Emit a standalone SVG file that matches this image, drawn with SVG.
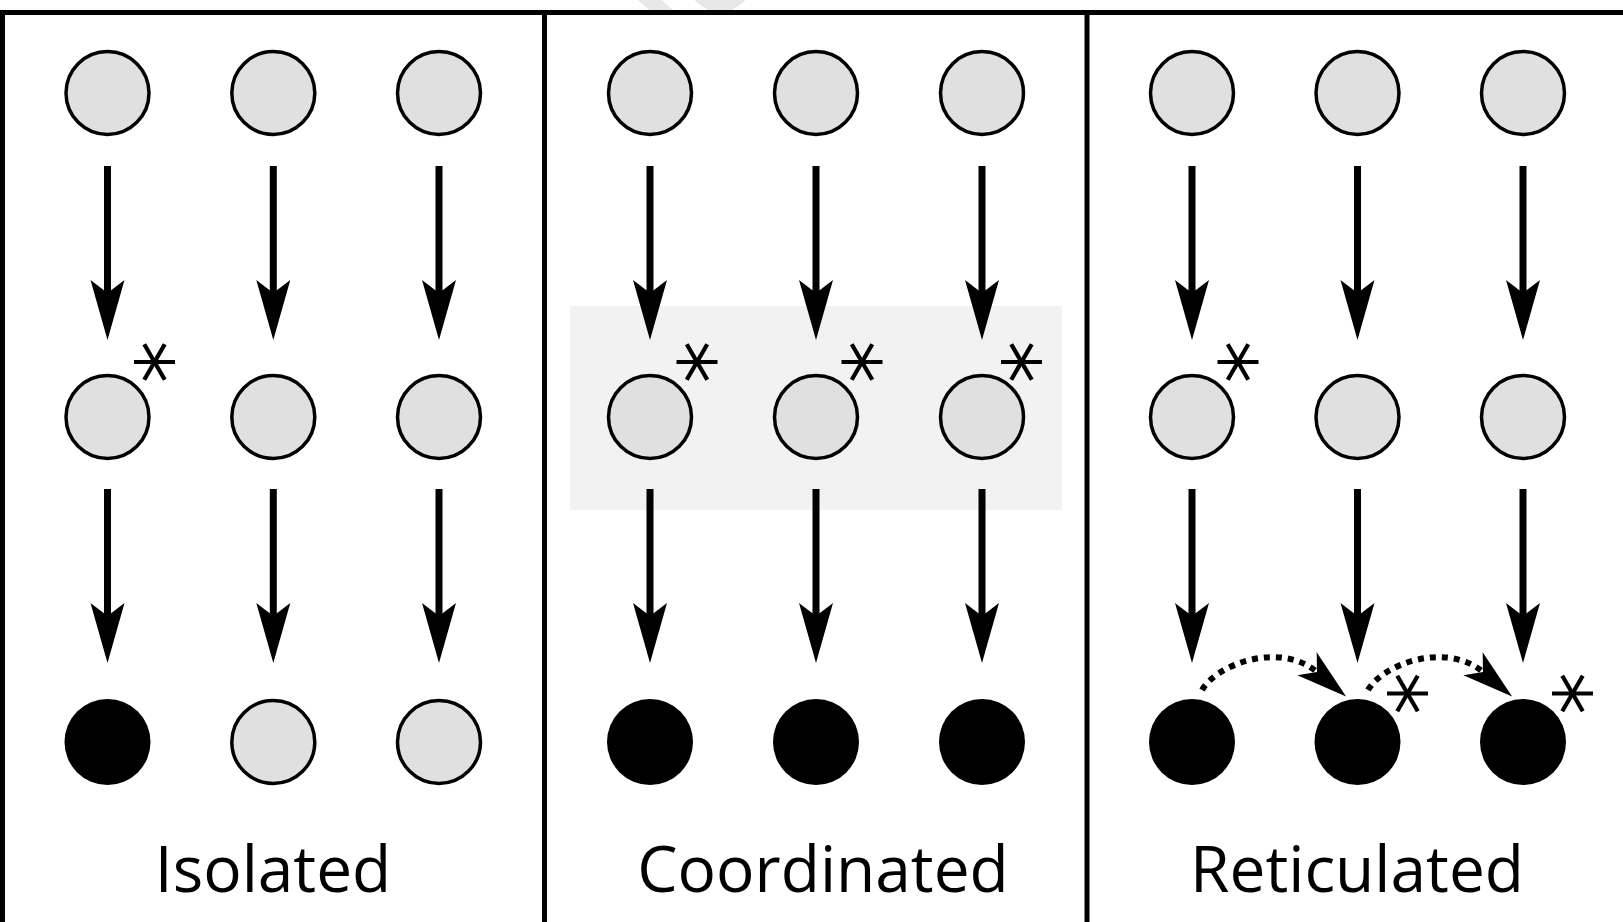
<svg xmlns="http://www.w3.org/2000/svg" xmlns:xlink="http://www.w3.org/1999/xlink" width="1623" height="922" viewBox="0 0 1623 922">
  <style>
    .node { fill: #e0e0e0; stroke: #000; stroke-width: 3.5; }
    .done { fill: #000; stroke: none; }
    .flow { fill: none; stroke: #000; stroke-width: 7; }
    .link { fill: none; stroke: #000; stroke-width: 6; stroke-dasharray: 6 6; }
    .frame { fill: none; stroke: #000; stroke-width: 5; }
    .mark { stroke: #000; stroke-width: 4.2; fill: none; }
    .label { font-family: "Open Sans", "Noto Sans", sans-serif; font-size: 64px; fill: #000; text-anchor: middle; }
  </style>
  <defs>
    <!-- stealth arrowhead, anchored at its notch -->
    <marker id="head" markerUnits="userSpaceOnUse" viewBox="0 -17 60 34" refX="13" refY="0" markerWidth="60" markerHeight="34" orient="auto" overflow="visible">
      <path d="M60,0 L0,-17 L13,0 L0,17 Z" fill="#000"/>
    </marker>
    <marker id="headSmall" markerUnits="userSpaceOnUse" viewBox="0 -15 51 30" refX="13" refY="0" markerWidth="51" markerHeight="30" orient="auto" overflow="visible">
      <path d="M51,0 L0,-15 L13,0 L0,15 Z" fill="#000"/>
    </marker>
    <!-- six-spoke change mark -->
    <g id="star" class="mark">
      <line x1="-20.5" y1="0" x2="20.5" y2="0"/>
      <line x1="-10.25" y1="-17.75" x2="10.25" y2="17.75"/>
      <line x1="10.25" y1="-17.75" x2="-10.25" y2="17.75"/>
    </g>
    <clipPath id="topStrip"><rect x="0" y="0" width="1623" height="12"/></clipPath>
  </defs>

  <rect width="1623" height="922" fill="#fff"/>

  <!-- faint stamp above the frame -->
  <g clip-path="url(#topStrip)" fill="#e8e8e8">
    <polygon points="633,-4 657,-4 675,12 652,12"/>
    <ellipse cx="720" cy="-24" rx="34" ry="36"/>
  </g>

  <!-- shaded band behind the coordinated middle row -->
  <rect id="sync-band" x="570" y="306" width="492" height="204" fill="#f2f2f2"/>

  <!-- panel frame -->
  <g id="frame">
    <line class="frame" x1="0" y1="12.5" x2="1623" y2="12.5"/>
    <line class="frame" x1="2.5" y1="10" x2="2.5" y2="922"/>
    <line class="frame" x1="544.5" y1="10" x2="544.5" y2="922"/>
    <line class="frame" x1="1087" y1="10" x2="1087" y2="922"/>
  </g>

  <!-- connectors -->
  <g id="connectors">
    <!-- isolated -->
    <path class="flow" d="M107.5,166 V293" marker-end="url(#head)"/>
    <path class="flow" d="M273.3,166 V293" marker-end="url(#head)"/>
    <path class="flow" d="M439,166 V293" marker-end="url(#head)"/>
    <path class="flow" d="M107.5,489 V616" marker-end="url(#head)"/>
    <path class="flow" d="M273.3,489 V616" marker-end="url(#head)"/>
    <path class="flow" d="M439,489 V616" marker-end="url(#head)"/>
    <!-- coordinated -->
    <path class="flow" d="M650,166 V293" marker-end="url(#head)"/>
    <path class="flow" d="M816,166 V293" marker-end="url(#head)"/>
    <path class="flow" d="M982,166 V293" marker-end="url(#head)"/>
    <path class="flow" d="M650,489 V616" marker-end="url(#head)"/>
    <path class="flow" d="M816,489 V616" marker-end="url(#head)"/>
    <path class="flow" d="M982,489 V616" marker-end="url(#head)"/>
    <!-- reticulated -->
    <path class="flow" d="M1192,166 V293" marker-end="url(#head)"/>
    <path class="flow" d="M1357.5,166 V293" marker-end="url(#head)"/>
    <path class="flow" d="M1523,166 V293" marker-end="url(#head)"/>
    <path class="flow" d="M1192,489 V616" marker-end="url(#head)"/>
    <path class="flow" d="M1357.5,489 V616" marker-end="url(#head)"/>
    <path class="flow" d="M1523,489 V616" marker-end="url(#head)"/>
    <!-- lateral hand-offs -->
    <path class="link" d="M1202,690 C1217,664 1280,641 1317,672" marker-end="url(#headSmall)"/>
    <path class="link" d="M1368,690 C1383,664 1446,641 1483,672" marker-end="url(#headSmall)"/>
  </g>

  <!-- isolated panel nodes -->
  <g id="iso-a1"><circle class="node" cx="107.5" cy="93" r="41.5"/></g>
  <g id="iso-b1"><circle class="node" cx="273.3" cy="93" r="41.5"/></g>
  <g id="iso-c1"><circle class="node" cx="439" cy="93" r="41.5"/></g>
  <g id="iso-a2"><circle class="node" cx="107.5" cy="417" r="41.5"/><use href="#star" xlink:href="#star" x="154.5" y="362"/></g>
  <g id="iso-b2"><circle class="node" cx="273.3" cy="417" r="41.5"/></g>
  <g id="iso-c2"><circle class="node" cx="439" cy="417" r="41.5"/></g>
  <g id="iso-a3"><circle class="done" cx="107.5" cy="742" r="43"/></g>
  <g id="iso-b3"><circle class="node" cx="273.3" cy="742" r="41.5"/></g>
  <g id="iso-c3"><circle class="node" cx="439" cy="742" r="41.5"/></g>

  <!-- coordinated panel nodes -->
  <g id="coo-a1"><circle class="node" cx="650" cy="93" r="41.5"/></g>
  <g id="coo-b1"><circle class="node" cx="816" cy="93" r="41.5"/></g>
  <g id="coo-c1"><circle class="node" cx="982" cy="93" r="41.5"/></g>
  <g id="coo-a2"><circle class="node" cx="650" cy="417" r="41.5"/><use href="#star" xlink:href="#star" x="697" y="362"/></g>
  <g id="coo-b2"><circle class="node" cx="816" cy="417" r="41.5"/><use href="#star" xlink:href="#star" x="862" y="362"/></g>
  <g id="coo-c2"><circle class="node" cx="982" cy="417" r="41.5"/><use href="#star" xlink:href="#star" x="1021.5" y="362"/></g>
  <g id="coo-a3"><circle class="done" cx="650" cy="742" r="43"/></g>
  <g id="coo-b3"><circle class="done" cx="816" cy="742" r="43"/></g>
  <g id="coo-c3"><circle class="done" cx="982" cy="742" r="43"/></g>

  <!-- reticulated panel nodes -->
  <g id="ret-a1"><circle class="node" cx="1192" cy="93" r="41.5"/></g>
  <g id="ret-b1"><circle class="node" cx="1357.5" cy="93" r="41.5"/></g>
  <g id="ret-c1"><circle class="node" cx="1523" cy="93" r="41.5"/></g>
  <g id="ret-a2"><circle class="node" cx="1192" cy="417" r="41.5"/><use href="#star" xlink:href="#star" x="1238" y="362"/></g>
  <g id="ret-b2"><circle class="node" cx="1357.5" cy="417" r="41.5"/></g>
  <g id="ret-c2"><circle class="node" cx="1523" cy="417" r="41.5"/></g>
  <g id="ret-a3"><circle class="done" cx="1192" cy="742" r="43"/></g>
  <g id="ret-b3"><circle class="done" cx="1357.5" cy="742" r="43"/><use href="#star" xlink:href="#star" x="1407.5" y="693.5"/></g>
  <g id="ret-c3"><circle class="done" cx="1523" cy="742" r="43"/><use href="#star" xlink:href="#star" x="1572.5" y="693.5"/></g>

  <!-- panel captions -->
  <g id="captions">
    <text class="label" x="273" y="892">Isolated</text>
    <text class="label" x="823" y="892">Coordinated</text>
    <text class="label" x="1357" y="892">Reticulated</text>
  </g>
</svg>
